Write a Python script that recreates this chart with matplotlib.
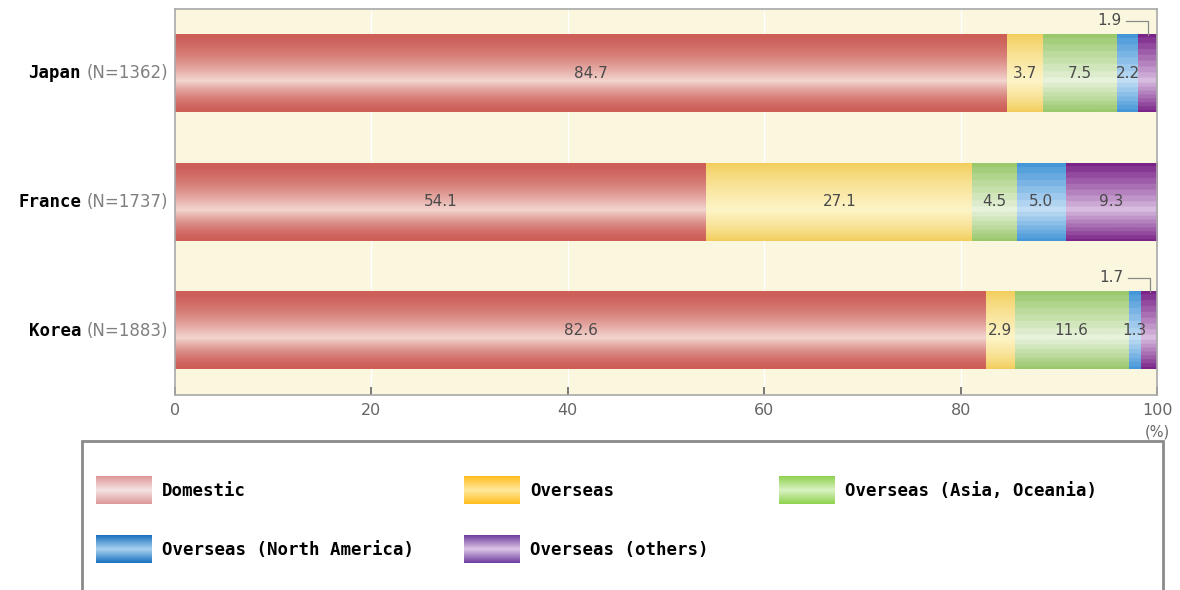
import numpy as np
import matplotlib
matplotlib.use('Agg')
import matplotlib.pyplot as plt
from matplotlib.colors import to_rgb
from matplotlib.patches import Rectangle
from matplotlib.transforms import blended_transform_factory

countries = ['Japan', 'France', 'Korea']
sample_sizes = ['(N=1362)', '(N=1737)', '(N=1883)']
series = ['Domestic', 'Overseas', 'Overseas (Asia, Oceania)',
          'Overseas (North America)', 'Overseas (others)']
domestic = [84.7, 54.1, 82.6]
overseas = [3.7, 27.1, 2.9]
asia_oceania = [7.5, 4.5, 11.6]
north_america = [2.2, 5.0, 1.3]
others = [1.9, 9.3, 1.7]
xticks = [0, 20, 40, 60, 80, 100]

bar_edge = ['#cd5e58', '#f3cd5a', '#9ac86c', '#4596d8', '#7a2488']
bar_mid = ['#f3d6d0', '#fdf4c8', '#e8f3dc', '#c2def5', '#d8bce0']
bar_power = [1.6, 0.8, 1.0, 1.0, 1.0]
bar_levels = [0, 0, 7, 7, 8]
leg_edge = ['#dc9898', '#ffbe1e', '#8ed24e', '#1870c0', '#6e3c9e']
leg_mid = ['#f6e2e2', '#ffe89c', '#daf2c4', '#a9d2ef', '#dcc6e6']

label_font = 'DejaVu Sans Mono'


def gradient(edge, mid, n=120, levels=0, power=1.0, peak=0.6):
    t = np.linspace(0, 1, n)
    d = np.where(t < peak, (peak - t) / peak, (t - peak) / (1 - peak))
    prof = (1 - d) ** power
    if levels:
        prof = np.round(prof * levels) / levels
    e = np.array(to_rgb(edge))
    m = np.array(to_rgb(mid))
    img = e[None, :] * (1 - prof[:, None]) + m[None, :] * prof[:, None]
    return img[:, None, :]


fig = plt.figure(figsize=(11.8, 5.9), dpi=100)
ax = fig.add_axes([175 / 1180, 1 - 395 / 590, 982 / 1180, 386 / 590])
ax.set_facecolor('#faf7de')

values = [domestic, overseas, asia_oceania, north_america, others]
ypos = np.arange(len(countries))
left = np.zeros(len(countries))
bar_h = 0.6
containers = []
for i, vals in enumerate(values):
    bars = ax.barh(ypos, vals, left=left, height=bar_h, color='none',
                   edgecolor='none', zorder=2)
    containers.append(bars)
    img = gradient(bar_edge[i], bar_mid[i], levels=bar_levels[i],
                   power=bar_power[i])
    for p in bars.patches:
        x0, y0 = p.get_x(), p.get_y()
        ax.imshow(img, extent=(x0, x0 + p.get_width(), y0 + p.get_height(), y0),
                  aspect='auto', interpolation='bilinear', zorder=2)
    left = left + np.array(vals)

# value labels
outside = {(0, 4), (2, 4)}
for si, bars in enumerate(containers):
    for ci, p in enumerate(bars.patches):
        v = values[si][ci]
        xc = p.get_x() + p.get_width() / 2
        yc = p.get_y() + p.get_height() / 2
        if (ci, si) in outside:
            ytop = p.get_y()
            yl = ytop - 0.11
            ax.plot([xc - 2.2, xc, xc], [yl, yl, ytop], color='#8a8a8a',
                    lw=0.9, zorder=3, clip_on=False)
            ax.text(xc - 2.7, yl, f'{v:.1f}', ha='right', va='center',
                    fontsize=11, color='#4a4a4a', zorder=4)
        else:
            ax.text(xc, yc, f'{v:.1f}', ha='center', va='center',
                    fontsize=11, color='#4a4a4a', zorder=4)

ax.set_xlim(0, 100)
ax.set_ylim(2.5, -0.5)
ax.set_xticks(xticks)
ax.set_xticklabels([str(t) for t in xticks], fontsize=11.5, color='#666666')
ax.set_yticks([])
ax.tick_params(axis='x', direction='in', length=6, width=1.1, color='#555555', pad=6)
for x in xticks[1:-1]:
    ax.axvline(x, color='#ffffff', lw=1.0, zorder=1)
for s in ax.spines.values():
    s.set_color('#a8a8a8')
    s.set_linewidth(1.2)

ax.text(1.0, -0.095, '(%)', transform=ax.transAxes, ha='center', va='center',
        fontsize=10.5, color='#666666')

# category labels
tr_fig_y = blended_transform_factory(fig.transFigure, ax.transData)
for ci, (c, n) in enumerate(zip(countries, sample_sizes)):
    ax.text(81 / 1180, ci, c, transform=tr_fig_y, ha='right', va='center',
            fontsize=12.5, fontweight='bold', family=label_font, color='black')
    ax.text(168 / 1180, ci, n, transform=tr_fig_y, ha='right', va='center',
            fontsize=12, color='#808080')

# legend box
fig.add_artist(Rectangle((82 / 1180, -0.02), (1163 - 82) / 1180, 0.02 + (590 - 441) / 590,
                         transform=fig.transFigure, facecolor='white',
                         edgecolor='#8a8a8a', lw=2))
lax = fig.add_axes([0, 0, 1, 1], zorder=5)
lax.axis('off')
lax.patch.set_alpha(0)
leg_pos = [(96, 490), (464, 490), (779, 490), (96, 549), (464, 549)]
for i, (name, (x, y)) in enumerate(zip(series, leg_pos)):
    img = gradient(leg_edge[i], leg_mid[i], peak=0.5)
    lax.imshow(img, extent=(x, x + 56, y + 14, y - 14), aspect='auto',
               interpolation='bilinear')
    lax.text(x + 66, y + 1, name, ha='left', va='center', fontsize=12.5,
             fontweight='bold', family=label_font, color='black')
lax.set_xlim(0, 1180)
lax.set_ylim(590, 0)

fig.savefig('out.png', dpi=100)
